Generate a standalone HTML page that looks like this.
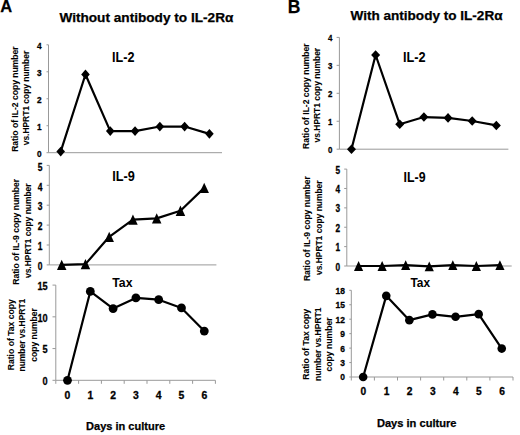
<!DOCTYPE html>
<html><head><meta charset="utf-8">
<style>
html,body{margin:0;padding:0;background:#fff;}
body{width:520px;height:435px;overflow:hidden;}
svg{display:block;}
svg text{font-family:"Liberation Sans",sans-serif;font-weight:bold;fill:#000;stroke:#000;stroke-width:0.25px;}
svg text.yl{stroke-width:0.08px;}
svg text.ct{stroke-width:0px;}
svg text.tl{stroke-width:0.3px;}
</style></head><body>
<svg width="520" height="435" viewBox="0 0 520 435">
<rect width="520" height="435" fill="#fff"/>
<g>
<line x1="48.5" y1="44.8" x2="48.5" y2="152.7" stroke="#999999" stroke-width="1"/>
<line x1="46.5" y1="152.7" x2="48.5" y2="152.7" stroke="#999999" stroke-width="1"/>
<text x="41.7" y="157.2" font-size="9.6" text-anchor="end" textLength="4.6" lengthAdjust="spacingAndGlyphs" class="tl">0</text>
<line x1="46.5" y1="125.72" x2="48.5" y2="125.72" stroke="#999999" stroke-width="1"/>
<text x="41.7" y="130.22" font-size="9.6" text-anchor="end" textLength="4.6" lengthAdjust="spacingAndGlyphs" class="tl">1</text>
<line x1="46.5" y1="98.75" x2="48.5" y2="98.75" stroke="#999999" stroke-width="1"/>
<text x="41.7" y="103.25" font-size="9.6" text-anchor="end" textLength="4.6" lengthAdjust="spacingAndGlyphs" class="tl">2</text>
<line x1="46.5" y1="71.77" x2="48.5" y2="71.77" stroke="#999999" stroke-width="1"/>
<text x="41.7" y="76.27" font-size="9.6" text-anchor="end" textLength="4.6" lengthAdjust="spacingAndGlyphs" class="tl">3</text>
<line x1="46.5" y1="44.8" x2="48.5" y2="44.8" stroke="#999999" stroke-width="1"/>
<text x="41.7" y="49.3" font-size="9.6" text-anchor="end" textLength="4.6" lengthAdjust="spacingAndGlyphs" class="tl">4</text>
<line x1="48.5" y1="152.7" x2="222" y2="152.7" stroke="#999999" stroke-width="1"/>
<polyline points="60.69,151.62 85.48,74.47 110.26,131.12 135.05,131.12 159.84,126.53 184.62,126.53 209.41,133.82" fill="none" stroke="#000" stroke-width="2.2" stroke-linejoin="round"/>
<path d="M60.69 146.72L64.99 151.62L60.69 156.52L56.39 151.62Z" fill="#000"/>
<path d="M85.48 69.57L89.78 74.47L85.48 79.37L81.18 74.47Z" fill="#000"/>
<path d="M110.26 126.22L114.56 131.12L110.26 136.02L105.96 131.12Z" fill="#000"/>
<path d="M135.05 126.22L139.35 131.12L135.05 136.02L130.75 131.12Z" fill="#000"/>
<path d="M159.84 121.63L164.14 126.53L159.84 131.43L155.54 126.53Z" fill="#000"/>
<path d="M184.62 121.63L188.92 126.53L184.62 131.43L180.32 126.53Z" fill="#000"/>
<path d="M209.41 128.92L213.71 133.82L209.41 138.72L205.11 133.82Z" fill="#000"/>
<text x="112" y="61.8" font-size="14" text-anchor="start" textLength="22.4" lengthAdjust="spacingAndGlyphs" class="ct">IL-2</text>
<text class="yl" transform="translate(18 99.1) rotate(-90)" x="0" y="0" font-size="9.3" text-anchor="middle" textLength="105.5" lengthAdjust="spacingAndGlyphs">Ratio of IL-2 copy number</text>
<text class="yl" transform="translate(29.1 98.05) rotate(-90)" x="0" y="0" font-size="9.3" text-anchor="middle" textLength="94.5" lengthAdjust="spacingAndGlyphs">vs.HPRT1 copy number</text>
</g>
<g>
<line x1="49.3" y1="165.4" x2="49.3" y2="264.9" stroke="#999999" stroke-width="1"/>
<line x1="46.7" y1="264.9" x2="49.3" y2="264.9" stroke="#999999" stroke-width="1"/>
<text x="42.5" y="270.1" font-size="10" text-anchor="end" textLength="4.7" lengthAdjust="spacingAndGlyphs" class="tl">0</text>
<line x1="46.7" y1="245" x2="49.3" y2="245" stroke="#999999" stroke-width="1"/>
<text x="42.5" y="250.2" font-size="10" text-anchor="end" textLength="4.7" lengthAdjust="spacingAndGlyphs" class="tl">1</text>
<line x1="46.7" y1="225.1" x2="49.3" y2="225.1" stroke="#999999" stroke-width="1"/>
<text x="42.5" y="230.3" font-size="10" text-anchor="end" textLength="4.7" lengthAdjust="spacingAndGlyphs" class="tl">2</text>
<line x1="46.7" y1="205.2" x2="49.3" y2="205.2" stroke="#999999" stroke-width="1"/>
<text x="42.5" y="210.4" font-size="10" text-anchor="end" textLength="4.7" lengthAdjust="spacingAndGlyphs" class="tl">3</text>
<line x1="46.7" y1="185.3" x2="49.3" y2="185.3" stroke="#999999" stroke-width="1"/>
<text x="42.5" y="190.5" font-size="10" text-anchor="end" textLength="4.7" lengthAdjust="spacingAndGlyphs" class="tl">4</text>
<line x1="46.7" y1="165.4" x2="49.3" y2="165.4" stroke="#999999" stroke-width="1"/>
<text x="42.5" y="170.6" font-size="10" text-anchor="end" textLength="4.7" lengthAdjust="spacingAndGlyphs" class="tl">5</text>
<line x1="49.3" y1="264.9" x2="216.4" y2="264.9" stroke="#999999" stroke-width="1"/>
<polyline points="61.7,264.9 85.45,264.1 109.2,236.84 132.95,219.53 156.7,218.33 180.45,210.77 204.2,187.89" fill="none" stroke="#000" stroke-width="2.2" stroke-linejoin="round"/>
<path d="M61.7 259.75L66.45 270.05L56.95 270.05Z" fill="#000"/>
<path d="M85.45 258.95L90.2 269.25L80.7 269.25Z" fill="#000"/>
<path d="M109.2 231.69L113.95 241.99L104.45 241.99Z" fill="#000"/>
<path d="M132.95 214.38L137.7 224.68L128.2 224.68Z" fill="#000"/>
<path d="M156.7 213.18L161.45 223.48L151.95 223.48Z" fill="#000"/>
<path d="M180.45 205.62L185.2 215.92L175.7 215.92Z" fill="#000"/>
<path d="M204.2 182.74L208.95 193.04L199.45 193.04Z" fill="#000"/>
<text x="112.3" y="181" font-size="14" text-anchor="start" textLength="22.6" lengthAdjust="spacingAndGlyphs" class="ct">IL-9</text>
<text class="yl" transform="translate(19.2 231.8) rotate(-90)" x="0" y="0" font-size="9.3" text-anchor="middle" textLength="106" lengthAdjust="spacingAndGlyphs">Ratio of IL-9 copy number</text>
<text class="yl" transform="translate(31 230.75) rotate(-90)" x="0" y="0" font-size="9.3" text-anchor="middle" textLength="94.5" lengthAdjust="spacingAndGlyphs">vs.HPRT1 copy number</text>
</g>
<g>
<line x1="55.8" y1="285.1" x2="55.8" y2="380.3" stroke="#999999" stroke-width="1"/>
<line x1="52.5" y1="380.3" x2="55.8" y2="380.3" stroke="#999999" stroke-width="1"/>
<text x="47.6" y="385.1" font-size="10.5" text-anchor="end" textLength="5.1" lengthAdjust="spacingAndGlyphs" class="tl">0</text>
<line x1="52.5" y1="348.57" x2="55.8" y2="348.57" stroke="#999999" stroke-width="1"/>
<text x="47.6" y="353.37" font-size="10.5" text-anchor="end" textLength="5.1" lengthAdjust="spacingAndGlyphs" class="tl">5</text>
<line x1="52.5" y1="316.83" x2="55.8" y2="316.83" stroke="#999999" stroke-width="1"/>
<text x="47.6" y="321.63" font-size="10.5" text-anchor="end" textLength="10.2" lengthAdjust="spacingAndGlyphs" class="tl">10</text>
<line x1="52.5" y1="285.1" x2="55.8" y2="285.1" stroke="#999999" stroke-width="1"/>
<text x="47.6" y="289.9" font-size="10.5" text-anchor="end" textLength="10.2" lengthAdjust="spacingAndGlyphs" class="tl">15</text>
<line x1="55.8" y1="380.3" x2="215.4" y2="380.3" stroke="#999999" stroke-width="1"/>
<line x1="55.8" y1="380.3" x2="55.8" y2="383.8" stroke="#999999" stroke-width="1"/>
<line x1="78.6" y1="380.3" x2="78.6" y2="383.8" stroke="#999999" stroke-width="1"/>
<line x1="101.4" y1="380.3" x2="101.4" y2="383.8" stroke="#999999" stroke-width="1"/>
<line x1="124.2" y1="380.3" x2="124.2" y2="383.8" stroke="#999999" stroke-width="1"/>
<line x1="147" y1="380.3" x2="147" y2="383.8" stroke="#999999" stroke-width="1"/>
<line x1="169.8" y1="380.3" x2="169.8" y2="383.8" stroke="#999999" stroke-width="1"/>
<line x1="192.6" y1="380.3" x2="192.6" y2="383.8" stroke="#999999" stroke-width="1"/>
<line x1="215.4" y1="380.3" x2="215.4" y2="383.8" stroke="#999999" stroke-width="1"/>
<polyline points="67.5,380.3 90.3,291.45 113.1,308.58 135.9,297.92 158.7,299.7 181.5,307.95 204.3,331.05" fill="none" stroke="#000" stroke-width="2.2" stroke-linejoin="round"/>
<circle cx="67.5" cy="380.3" r="4.4" fill="#000"/>
<circle cx="90.3" cy="291.45" r="4.4" fill="#000"/>
<circle cx="113.1" cy="308.58" r="4.4" fill="#000"/>
<circle cx="135.9" cy="297.92" r="4.4" fill="#000"/>
<circle cx="158.7" cy="299.7" r="4.4" fill="#000"/>
<circle cx="181.5" cy="307.95" r="4.4" fill="#000"/>
<circle cx="204.3" cy="331.05" r="4.4" fill="#000"/>
<text x="67.5" y="398.8" font-size="10.4" text-anchor="middle" class="tl">0</text>
<text x="90.3" y="398.8" font-size="10.4" text-anchor="middle" class="tl">1</text>
<text x="113.1" y="398.8" font-size="10.4" text-anchor="middle" class="tl">2</text>
<text x="135.9" y="398.8" font-size="10.4" text-anchor="middle" class="tl">3</text>
<text x="158.7" y="398.8" font-size="10.4" text-anchor="middle" class="tl">4</text>
<text x="181.5" y="398.8" font-size="10.4" text-anchor="middle" class="tl">5</text>
<text x="204.3" y="398.8" font-size="10.4" text-anchor="middle" class="tl">6</text>
<text x="112.3" y="287" font-size="13.5" text-anchor="start" textLength="20.2" lengthAdjust="spacingAndGlyphs" class="ct">Tax</text>
<text class="yl" transform="translate(13.8 334.75) rotate(-90)" x="0" y="0" font-size="9.3" text-anchor="middle" textLength="71" lengthAdjust="spacingAndGlyphs">Ratio of Tax copy</text>
<text class="yl" transform="translate(25.3 335.1) rotate(-90)" x="0" y="0" font-size="9.3" text-anchor="middle" textLength="72.8" lengthAdjust="spacingAndGlyphs">number vs.HPRT1</text>
<text class="yl" transform="translate(36.8 335) rotate(-90)" x="0" y="0" font-size="9.3" text-anchor="middle" textLength="53.6" lengthAdjust="spacingAndGlyphs">copy number</text>
</g>
<g>
<line x1="339.4" y1="37.4" x2="339.4" y2="149.2" stroke="#999999" stroke-width="1"/>
<line x1="336.6" y1="149.2" x2="339.4" y2="149.2" stroke="#999999" stroke-width="1"/>
<text x="332.3" y="152.9" font-size="9.8" text-anchor="end" textLength="4.4" lengthAdjust="spacingAndGlyphs" class="tl">0</text>
<line x1="336.6" y1="121.25" x2="339.4" y2="121.25" stroke="#999999" stroke-width="1"/>
<text x="332.3" y="124.95" font-size="9.8" text-anchor="end" textLength="4.4" lengthAdjust="spacingAndGlyphs" class="tl">1</text>
<line x1="336.6" y1="93.3" x2="339.4" y2="93.3" stroke="#999999" stroke-width="1"/>
<text x="332.3" y="97" font-size="9.8" text-anchor="end" textLength="4.4" lengthAdjust="spacingAndGlyphs" class="tl">2</text>
<line x1="336.6" y1="65.35" x2="339.4" y2="65.35" stroke="#999999" stroke-width="1"/>
<text x="332.3" y="69.05" font-size="9.8" text-anchor="end" textLength="4.4" lengthAdjust="spacingAndGlyphs" class="tl">3</text>
<line x1="336.6" y1="37.4" x2="339.4" y2="37.4" stroke="#999999" stroke-width="1"/>
<text x="332.3" y="41.1" font-size="9.8" text-anchor="end" textLength="4.4" lengthAdjust="spacingAndGlyphs" class="tl">4</text>
<line x1="339.4" y1="149.2" x2="508.4" y2="149.2" stroke="#999999" stroke-width="1"/>
<polyline points="351.47,149.2 375.61,55.01 399.76,124.32 423.9,117.06 448.04,117.9 472.19,120.97 496.33,125.44" fill="none" stroke="#000" stroke-width="2.2" stroke-linejoin="round"/>
<path d="M351.47 144.4L355.97 149.2L351.47 154L346.97 149.2Z" fill="#000"/>
<path d="M375.61 50.21L380.11 55.01L375.61 59.81L371.11 55.01Z" fill="#000"/>
<path d="M399.76 119.52L404.26 124.32L399.76 129.12L395.26 124.32Z" fill="#000"/>
<path d="M423.9 112.26L428.4 117.06L423.9 121.86L419.4 117.06Z" fill="#000"/>
<path d="M448.04 113.1L452.54 117.9L448.04 122.7L443.54 117.9Z" fill="#000"/>
<path d="M472.19 116.17L476.69 120.97L472.19 125.77L467.69 120.97Z" fill="#000"/>
<path d="M496.33 120.64L500.83 125.44L496.33 130.24L491.83 125.44Z" fill="#000"/>
<text x="403" y="61.8" font-size="14" text-anchor="start" textLength="22.6" lengthAdjust="spacingAndGlyphs" class="ct">IL-2</text>
<text class="yl" transform="translate(309 96.2) rotate(-90)" x="0" y="0" font-size="9.3" text-anchor="middle" textLength="105.5" lengthAdjust="spacingAndGlyphs">Ratio of IL-2 copy number</text>
<text class="yl" transform="translate(320.2 95.15) rotate(-90)" x="0" y="0" font-size="9.3" text-anchor="middle" textLength="94.5" lengthAdjust="spacingAndGlyphs">vs.HPRT1 copy number</text>
</g>
<g>
<line x1="346.8" y1="169.1" x2="346.8" y2="266" stroke="#999999" stroke-width="1"/>
<line x1="344.2" y1="266" x2="346.8" y2="266" stroke="#999999" stroke-width="1"/>
<text x="340.1" y="270.5" font-size="10" text-anchor="end" textLength="4.6" lengthAdjust="spacingAndGlyphs" class="tl">0</text>
<line x1="344.2" y1="246.62" x2="346.8" y2="246.62" stroke="#999999" stroke-width="1"/>
<text x="340.1" y="251.12" font-size="10" text-anchor="end" textLength="4.6" lengthAdjust="spacingAndGlyphs" class="tl">1</text>
<line x1="344.2" y1="227.24" x2="346.8" y2="227.24" stroke="#999999" stroke-width="1"/>
<text x="340.1" y="231.74" font-size="10" text-anchor="end" textLength="4.6" lengthAdjust="spacingAndGlyphs" class="tl">2</text>
<line x1="344.2" y1="207.86" x2="346.8" y2="207.86" stroke="#999999" stroke-width="1"/>
<text x="340.1" y="212.36" font-size="10" text-anchor="end" textLength="4.6" lengthAdjust="spacingAndGlyphs" class="tl">3</text>
<line x1="344.2" y1="188.48" x2="346.8" y2="188.48" stroke="#999999" stroke-width="1"/>
<text x="340.1" y="192.98" font-size="10" text-anchor="end" textLength="4.6" lengthAdjust="spacingAndGlyphs" class="tl">4</text>
<line x1="344.2" y1="169.1" x2="346.8" y2="169.1" stroke="#999999" stroke-width="1"/>
<text x="340.1" y="173.6" font-size="10" text-anchor="end" textLength="4.6" lengthAdjust="spacingAndGlyphs" class="tl">5</text>
<line x1="346.8" y1="266" x2="511.7" y2="266" stroke="#999999" stroke-width="1"/>
<polyline points="358.58,266 382.14,266 405.69,265.03 429.25,266.39 452.81,265.03 476.36,266 499.92,265.03" fill="none" stroke="#000" stroke-width="2.2" stroke-linejoin="round"/>
<path d="M358.58 261.1L363.18 270.9L353.98 270.9Z" fill="#000"/>
<path d="M382.14 261.1L386.74 270.9L377.54 270.9Z" fill="#000"/>
<path d="M405.69 260.13L410.29 269.93L401.09 269.93Z" fill="#000"/>
<path d="M429.25 261.49L433.85 271.29L424.65 271.29Z" fill="#000"/>
<path d="M452.81 260.13L457.41 269.93L448.21 269.93Z" fill="#000"/>
<path d="M476.36 261.1L480.96 270.9L471.76 270.9Z" fill="#000"/>
<path d="M499.92 260.13L504.52 269.93L495.32 269.93Z" fill="#000"/>
<text x="403.6" y="181.6" font-size="14" text-anchor="start" textLength="22" lengthAdjust="spacingAndGlyphs" class="ct">IL-9</text>
<text class="yl" transform="translate(310.3 228.6) rotate(-90)" x="0" y="0" font-size="9.3" text-anchor="middle" textLength="105" lengthAdjust="spacingAndGlyphs">Ratio of IL-9 copy number</text>
<text class="yl" transform="translate(322 227.75) rotate(-90)" x="0" y="0" font-size="9.3" text-anchor="middle" textLength="94.5" lengthAdjust="spacingAndGlyphs">vs.HPRT1 copy number</text>
</g>
<g>
<line x1="351.3" y1="290.3" x2="351.3" y2="377" stroke="#999999" stroke-width="1"/>
<line x1="349.3" y1="377" x2="351.3" y2="377" stroke="#999999" stroke-width="1"/>
<text x="345" y="380.4" font-size="9.7" text-anchor="end" textLength="4.7" lengthAdjust="spacingAndGlyphs" class="tl">0</text>
<line x1="349.3" y1="362.55" x2="351.3" y2="362.55" stroke="#999999" stroke-width="1"/>
<text x="345" y="365.95" font-size="9.7" text-anchor="end" textLength="4.7" lengthAdjust="spacingAndGlyphs" class="tl">3</text>
<line x1="349.3" y1="348.1" x2="351.3" y2="348.1" stroke="#999999" stroke-width="1"/>
<text x="345" y="351.5" font-size="9.7" text-anchor="end" textLength="4.7" lengthAdjust="spacingAndGlyphs" class="tl">6</text>
<line x1="349.3" y1="333.65" x2="351.3" y2="333.65" stroke="#999999" stroke-width="1"/>
<text x="345" y="337.05" font-size="9.7" text-anchor="end" textLength="4.7" lengthAdjust="spacingAndGlyphs" class="tl">9</text>
<line x1="349.3" y1="319.2" x2="351.3" y2="319.2" stroke="#999999" stroke-width="1"/>
<text x="345" y="322.6" font-size="9.7" text-anchor="end" textLength="9.4" lengthAdjust="spacingAndGlyphs" class="tl">12</text>
<line x1="349.3" y1="304.75" x2="351.3" y2="304.75" stroke="#999999" stroke-width="1"/>
<text x="345" y="308.15" font-size="9.7" text-anchor="end" textLength="9.4" lengthAdjust="spacingAndGlyphs" class="tl">15</text>
<line x1="349.3" y1="290.3" x2="351.3" y2="290.3" stroke="#999999" stroke-width="1"/>
<text x="345" y="293.7" font-size="9.7" text-anchor="end" textLength="9.4" lengthAdjust="spacingAndGlyphs" class="tl">18</text>
<line x1="351.3" y1="377" x2="513" y2="377" stroke="#999999" stroke-width="1"/>
<line x1="351.3" y1="377" x2="351.3" y2="380.5" stroke="#999999" stroke-width="1"/>
<line x1="374.4" y1="377" x2="374.4" y2="380.5" stroke="#999999" stroke-width="1"/>
<line x1="397.5" y1="377" x2="397.5" y2="380.5" stroke="#999999" stroke-width="1"/>
<line x1="420.6" y1="377" x2="420.6" y2="380.5" stroke="#999999" stroke-width="1"/>
<line x1="443.7" y1="377" x2="443.7" y2="380.5" stroke="#999999" stroke-width="1"/>
<line x1="466.8" y1="377" x2="466.8" y2="380.5" stroke="#999999" stroke-width="1"/>
<line x1="489.9" y1="377" x2="489.9" y2="380.5" stroke="#999999" stroke-width="1"/>
<line x1="513" y1="377" x2="513" y2="380.5" stroke="#999999" stroke-width="1"/>
<polyline points="363.15,377 386.25,295.84 409.35,320.16 432.45,314.38 455.55,316.79 478.65,314.14 501.75,348.58" fill="none" stroke="#000" stroke-width="2.2" stroke-linejoin="round"/>
<circle cx="363.15" cy="377" r="4.3" fill="#000"/>
<circle cx="386.25" cy="295.84" r="4.3" fill="#000"/>
<circle cx="409.35" cy="320.16" r="4.3" fill="#000"/>
<circle cx="432.45" cy="314.38" r="4.3" fill="#000"/>
<circle cx="455.55" cy="316.79" r="4.3" fill="#000"/>
<circle cx="478.65" cy="314.14" r="4.3" fill="#000"/>
<circle cx="501.75" cy="348.58" r="4.3" fill="#000"/>
<text x="363.45" y="395.4" font-size="10.2" text-anchor="middle" class="tl">0</text>
<text x="386.55" y="395.4" font-size="10.2" text-anchor="middle" class="tl">1</text>
<text x="409.65" y="395.4" font-size="10.2" text-anchor="middle" class="tl">2</text>
<text x="432.75" y="395.4" font-size="10.2" text-anchor="middle" class="tl">3</text>
<text x="455.85" y="395.4" font-size="10.2" text-anchor="middle" class="tl">4</text>
<text x="478.95" y="395.4" font-size="10.2" text-anchor="middle" class="tl">5</text>
<text x="502.05" y="395.4" font-size="10.2" text-anchor="middle" class="tl">6</text>
<text x="410.4" y="286.6" font-size="13.5" text-anchor="start" textLength="19.6" lengthAdjust="spacingAndGlyphs" class="ct">Tax</text>
<text class="yl" transform="translate(308.6 344.35) rotate(-90)" x="0" y="0" font-size="9.3" text-anchor="middle" textLength="70.8" lengthAdjust="spacingAndGlyphs">Ratio of Tax copy</text>
<text class="yl" transform="translate(320.6 344.25) rotate(-90)" x="0" y="0" font-size="9.3" text-anchor="middle" textLength="73.6" lengthAdjust="spacingAndGlyphs">number vs.HPRT1</text>
<text class="yl" transform="translate(331.8 344.45) rotate(-90)" x="0" y="0" font-size="9.3" text-anchor="middle" textLength="54" lengthAdjust="spacingAndGlyphs">copy number</text>
</g>
<text x="0.2" y="12.4" font-size="16.5" text-anchor="start">A</text>
<text x="287.8" y="12.7" font-size="17.5" text-anchor="start">B</text>
<text x="59.4" y="21.8" font-size="12.9" text-anchor="start" textLength="174" lengthAdjust="spacingAndGlyphs">Without antibody to IL-2Rα</text>
<text x="350.5" y="19.9" font-size="12.9" text-anchor="start" textLength="152" lengthAdjust="spacingAndGlyphs">With antibody to IL-2Rα</text>
<text x="86.1" y="430.2" font-size="10.9" text-anchor="start" textLength="79" lengthAdjust="spacingAndGlyphs">Days in culture</text>
<text x="376.9" y="427.3" font-size="10.9" text-anchor="start" textLength="79.6" lengthAdjust="spacingAndGlyphs">Days in culture</text>
</svg>
</body></html>
